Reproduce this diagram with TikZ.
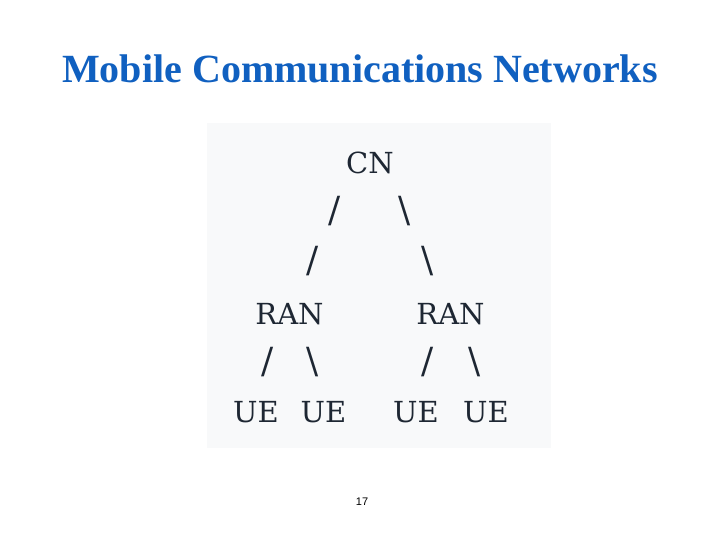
\documentclass[tikz,border=0pt]{standalone}
\usepackage{fontspec}
\setmainfont{Liberation Serif}
\newfontfamily\boxfont{DejaVu Serif}
\newfontfamily\numfont{Liberation Sans}
\definecolor{titleblue}{HTML}{1060C0}
\definecolor{boxbg}{HTML}{F8F9FA}
\definecolor{inktext}{HTML}{1E2733}
\tikzset{
  ascii/.style={font=\boxfont\fontsize{29}{34}\selectfont, text=inktext, inner sep=0pt, anchor=base},
  link/.style={font=\boxfont\fontsize{36}{40}\selectfont, text=inktext, inner sep=0pt, anchor=base},
}
\begin{document}
\begin{tikzpicture}[x=1pt,y=1pt]
\useasboundingbox (0,0) rectangle (720,540);
\fill[white] (0,0) rectangle (720,540);
\node[font=\fontsize{40}{46}\selectfont\bfseries, text=titleblue, inner sep=0pt, anchor=base] (title) at (360,457) {Mobile Communications Networks};
\fill[boxbg] (207,92) rectangle (551,417);
\node[ascii] (cn) at (370,366) {CN};
\node[link] (s1l) at (335,317) {/};
\node[link] (s1r) at (404.5,317) {\textbackslash};
\node[link] (s2l) at (312.5,267) {/};
\node[link] (s2r) at (427.5,267) {\textbackslash};
\node[ascii] (ranl) at (289.5,215) {RAN};
\node[ascii] (ranr) at (450.5,215) {RAN};
\node[link] (s3a) at (267.5,166) {/};
\node[link] (s3b) at (313,166) {\textbackslash};
\node[link] (s3c) at (428,166) {/};
\node[link] (s3d) at (474.5,166) {\textbackslash};
\node[ascii] (ue1) at (256,117) {UE};
\node[ascii] (ue2) at (323.5,117) {UE};
\node[ascii] (ue3) at (416,117) {UE};
\node[ascii] (ue4) at (486,117) {UE};
\node[font=\numfont\fontsize{11}{13}\selectfont, inner sep=0pt, anchor=base] (page) at (362,34) {17};
\end{tikzpicture}
\end{document}
